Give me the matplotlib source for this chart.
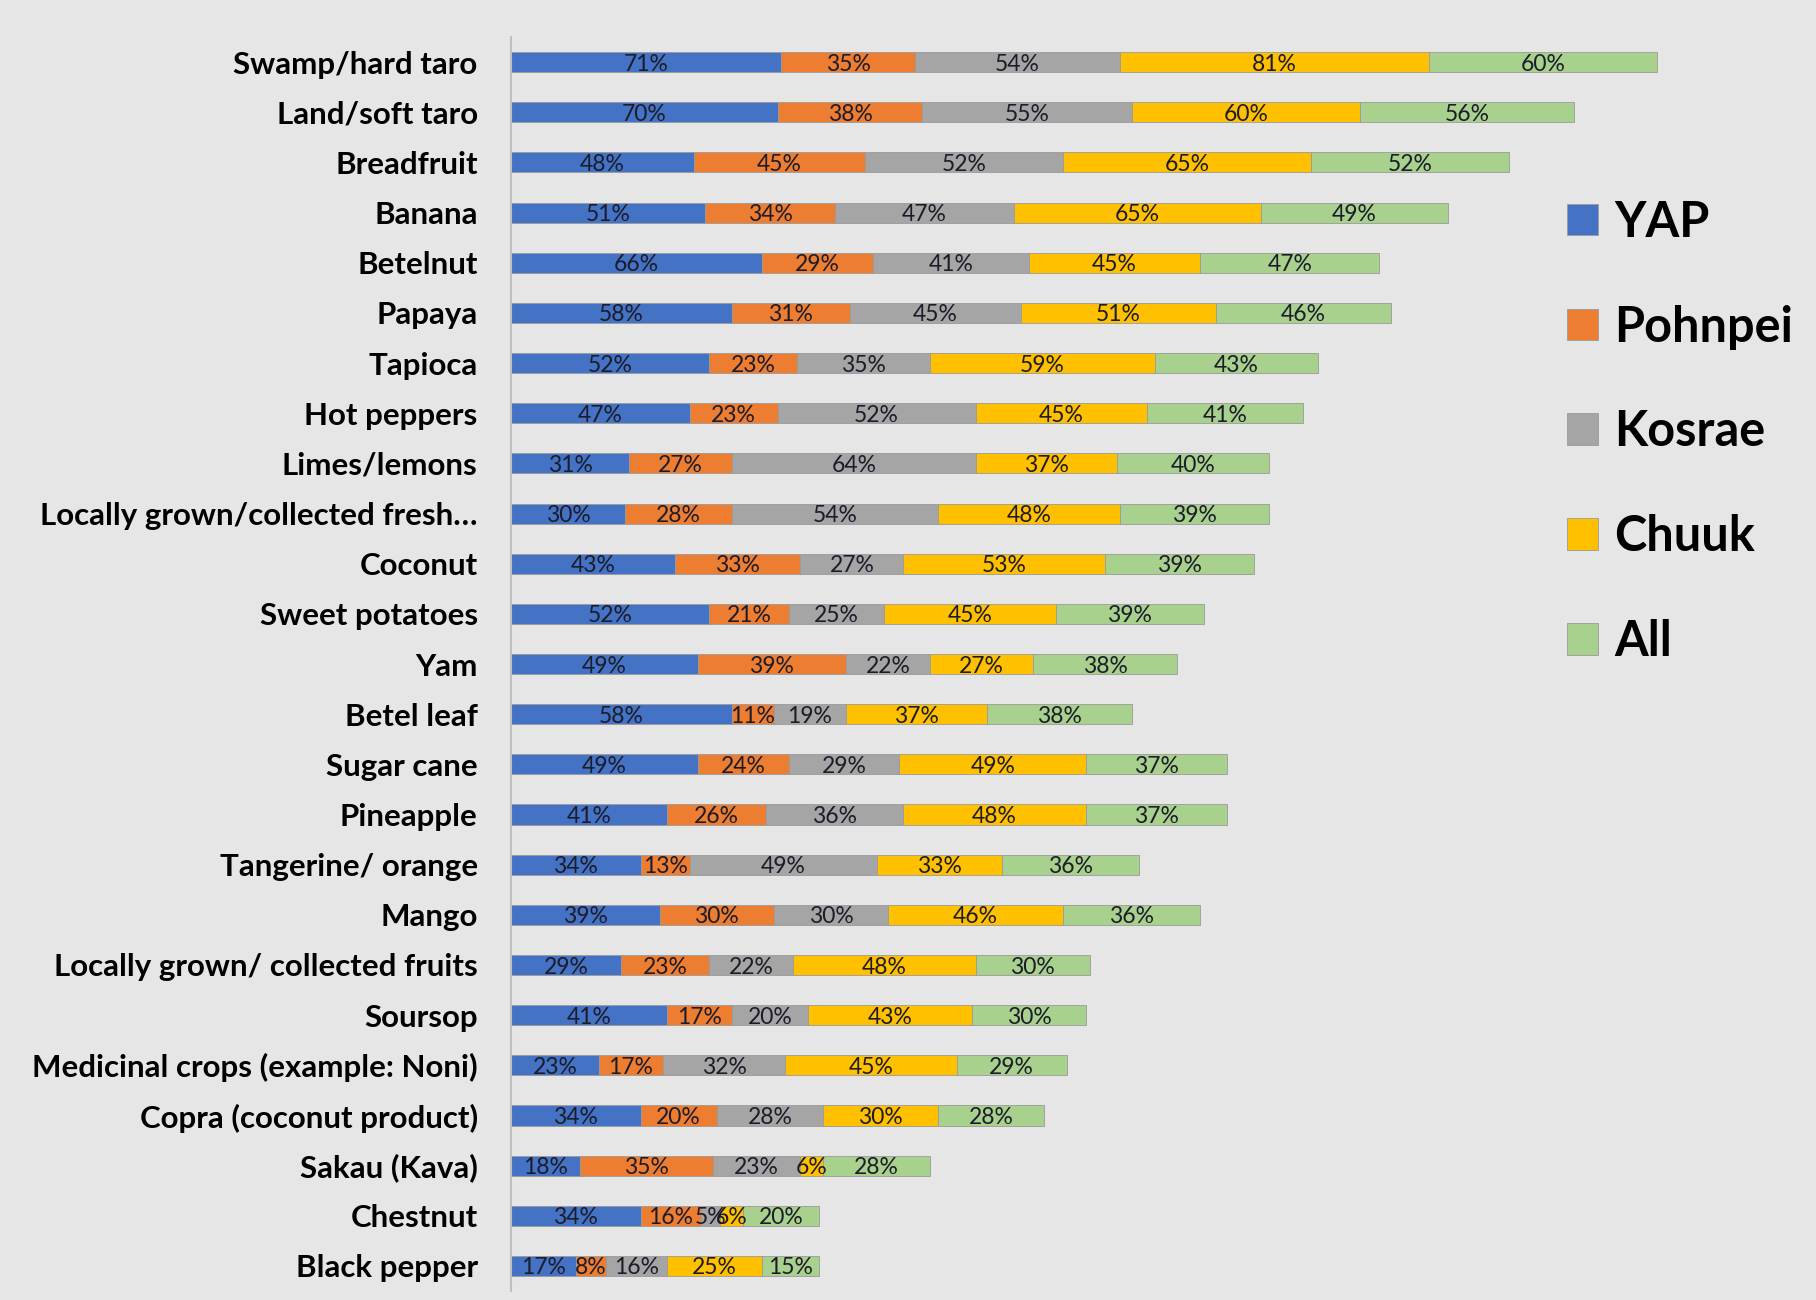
import numpy as np
import matplotlib.pyplot as plt

plt.rcParams['font.family'] = ['Lato', 'DejaVu Sans']

crops = ["Swamp/hard taro", "Land/soft taro", "Breadfruit", "Banana", "Betelnut",
         "Papaya", "Tapioca", "Hot peppers", "Limes/lemons",
         "Locally grown/collected fresh\u2026", "Coconut", "Sweet potatoes", "Yam",
         "Betel leaf", "Sugar cane", "Pineapple", "Tangerine/ orange", "Mango",
         "Locally grown/ collected fruits", "Soursop", "Medicinal crops (example: Noni)",
         "Copra (coconut product)", "Sakau (Kava)", "Chestnut", "Black pepper"]

yap     = [71, 70, 48, 51, 66, 58, 52, 47, 31, 30, 43, 52, 49, 58, 49, 41, 34, 39, 29, 41, 23, 34, 18, 34, 17]
pohnpei = [35, 38, 45, 34, 29, 31, 23, 23, 27, 28, 33, 21, 39, 11, 24, 26, 13, 30, 23, 17, 17, 20, 35, 16, 8]
kosrae  = [54, 55, 52, 47, 41, 45, 35, 52, 64, 54, 27, 25, 22, 19, 29, 36, 49, 30, 22, 20, 32, 28, 23, 5, 16]
chuuk   = [81, 60, 65, 65, 45, 51, 59, 45, 37, 48, 53, 45, 27, 37, 49, 48, 33, 46, 48, 43, 45, 30, 6, 6, 25]
all_    = [60, 56, 52, 49, 47, 46, 43, 41, 40, 39, 39, 39, 38, 38, 37, 37, 36, 36, 30, 30, 29, 28, 28, 20, 15]

series = ["YAP", "Pohnpei", "Kosrae", "Chuuk", "All"]
colors = ["#4472C4", "#ED7D31", "#A5A5A5", "#FFC000", "#A9D18E"]
bg = "#E6E6E6"

fig = plt.figure(figsize=(18.16, 13), dpi=100, facecolor=bg)
ax = fig.add_axes([0.2814, 0.0069, 0.713, 0.9646], facecolor=bg)

y = np.arange(len(crops))[::-1]
left = np.zeros(len(crops))
handles = []
for name, vals, c in zip(series, [yap, pohnpei, kosrae, chuuk, all_], colors):
    vals = np.array(vals)
    b = ax.barh(y, vals, left=left, height=0.4, color=c, edgecolor="#9a9a9a",
                linewidth=0.6, label=name)
    handles.append(b)
    for yi, l, v in zip(y, left, vals):
        ax.text(l + v / 2, yi - 0.04, f"{v}%", ha="center", va="center",
                fontsize=16.5, color="#1c1c2a")
    left = left + vals

ax.set_xlim(0, 340)
ax.set_ylim(-0.5, 24.5)
ax.set_yticks(y)
ax.set_yticklabels(crops, fontsize=22.5, fontweight="bold")
ax.tick_params(axis="y", length=0, pad=24)
ax.set_xticks([])
for s in ["top", "right", "bottom"]:
    ax.spines[s].set_visible(False)
ax.spines["left"].set_color("#BFBFBF")
ax.spines["left"].set_linewidth(1.5)

leg = fig.legend(handles=handles, labels=series, loc="upper left",
                 bbox_to_anchor=(0.839, 0.880), frameon=False,
                 prop={"size": 35, "weight": "bold"},
                 handlelength=0.62, handleheight=0.62, handletextpad=0.35,
                 labelspacing=1.23)
for h in leg.legend_handles:
    h.set_edgecolor("#9a9a9a")

fig.savefig("out.png", dpi=100, facecolor=bg)
